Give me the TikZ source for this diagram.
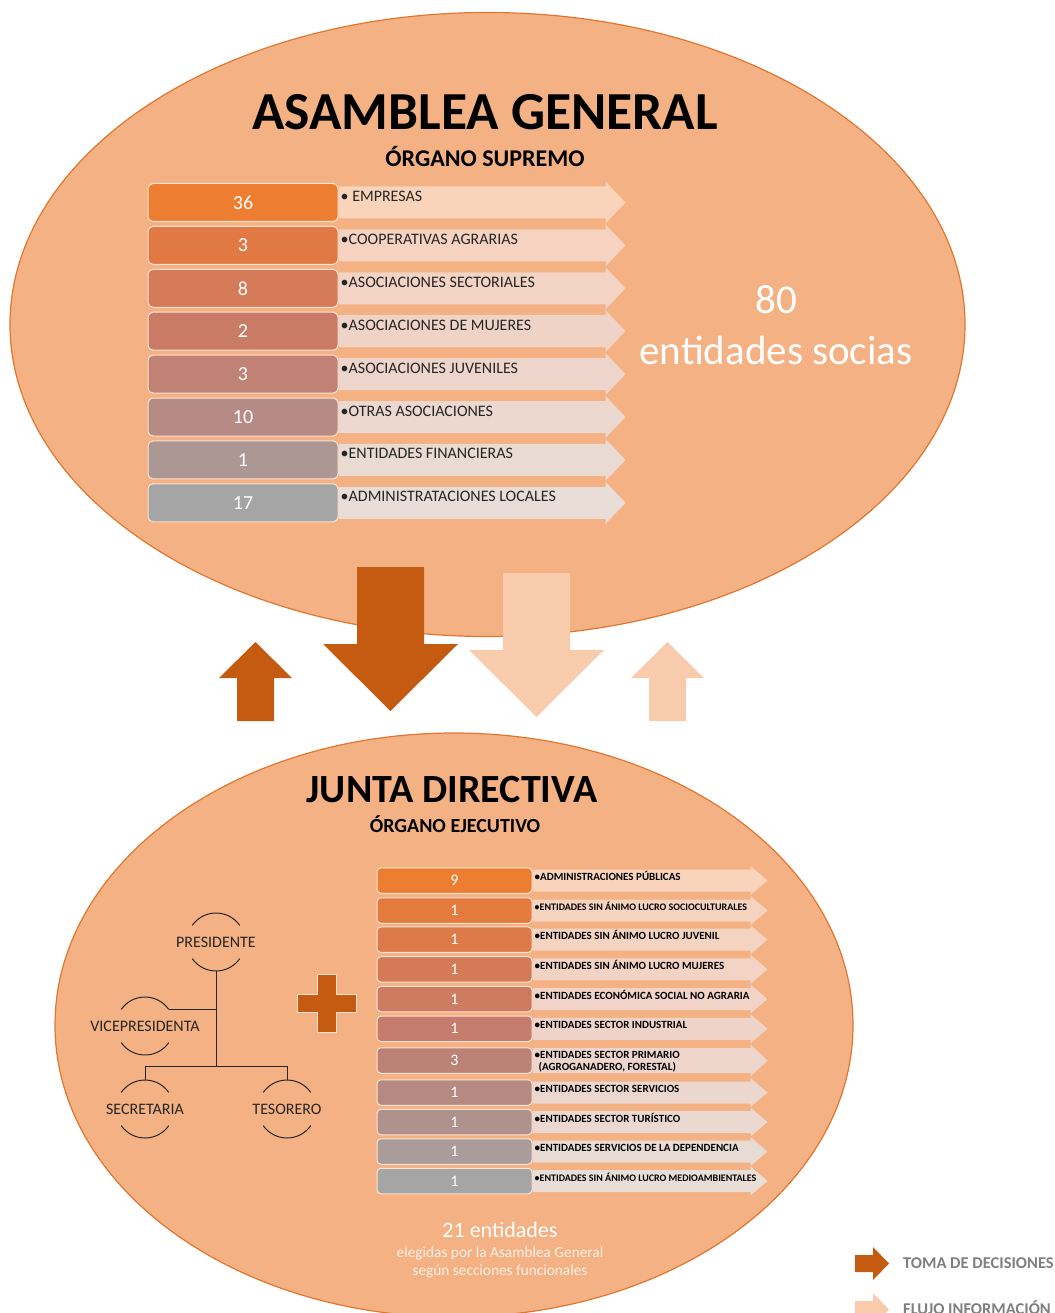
\documentclass[tikz,border=0pt]{standalone}
\usepackage{fontspec}
\setmainfont{Carlito}
\usetikzlibrary{positioning,shapes.geometric}

\definecolor{ellfill}{HTML}{F4B183}
\definecolor{elldraw}{HTML}{E2762F}
\definecolor{darkarr}{HTML}{C55A11}
\definecolor{lightarr}{HTML}{F8CBAD}
\definecolor{boxedge}{HTML}{FBE3D4}
\definecolor{txtdark}{HTML}{262626}
\definecolor{softwhite}{HTML}{FEF0E6}
\definecolor{legendgray}{HTML}{7F7F7F}
% asamblea rows
\definecolor{sA}{HTML}{ED7D31}
\definecolor{sB}{HTML}{E07944}
\definecolor{sC}{HTML}{D57B57}
\definecolor{sD}{HTML}{CA7B66}
\definecolor{sE}{HTML}{BF8275}
\definecolor{sF}{HTML}{B68B85}
\definecolor{sG}{HTML}{AD9795}
\definecolor{sH}{HTML}{A5A5A5}
% junta rows
\definecolor{jA}{HTML}{ED7D31}
\definecolor{jB}{HTML}{E47A3E}
\definecolor{jC}{HTML}{DD7A4A}
\definecolor{jD}{HTML}{D57A56}
\definecolor{jE}{HTML}{CD7B61}
\definecolor{jF}{HTML}{C57C6C}
\definecolor{jG}{HTML}{BD8276}
\definecolor{jH}{HTML}{B68A83}
\definecolor{jI}{HTML}{AF928E}
\definecolor{jJ}{HTML}{A99C9A}
\definecolor{jK}{HTML}{A5A5A5}

\begin{document}
\begin{tikzpicture}[x=1pt, y=-1pt,
    organo/.style={ellipse, fill=ellfill, draw=elldraw, line width=1.2pt, inner sep=0pt},
    topbox/.style={rounded corners=5pt, draw=boxedge, line width=1pt, minimum width=190pt, minimum height=38pt, inner sep=0pt, text=white, font=\fontsize{20}{24}\selectfont},
    botbox/.style={rounded corners=4pt, draw=boxedge, line width=1pt, minimum width=155pt, minimum height=25.5pt, inner sep=0pt, text=white, font=\fontsize{16}{19}\selectfont},
    band/.style={fill opacity=0.85},
    toptag/.style={anchor=base west, inner sep=0pt, text=txtdark, font=\fontsize{16}{19}\selectfont},
    bottag/.style={anchor=base west, inner sep=0pt, text=black, font=\bfseries\fontsize{11}{13}\selectfont},
    rolename/.style={inner sep=0pt, text=txtdark, font=\fontsize{16}{19}\selectfont},
    orgline/.style={draw=txtdark, line width=1pt},
    legendtxt/.style={anchor=base west, inner sep=0pt, text=legendgray, font=\bfseries\fontsize{16.5}{19}\selectfont}
]
    \useasboundingbox (0,0) rectangle (1054,1313);
    \clip (0,0) rectangle (1054,1313);

    % the two bodies
    \node[organo, minimum width=955pt, minimum height=624pt] (asamblea) at (487.5,324.5) {};
    \node[organo, minimum width=798pt, minimum height=584pt] (junta) at (454,1025) {};

    \node[anchor=base, text=black, font=\bfseries\fontsize{53.5}{62}\selectfont] (asmtitle) at (485,130) {ASAMBLEA GENERAL};
    \node[anchor=base, text=black, font=\bfseries\fontsize{24}{28}\selectfont] (asmsub) at (485,167) {ÓRGANO SUPREMO};

    \node[anchor=base, text=white, font=\fontsize{41}{48}\selectfont] (ochenta) at (776,313) {80};
    \node[anchor=base, text=white, font=\fontsize{41}{48}\selectfont] (socias) at (776,364) {entidades socias};

    % asamblea rows
    \node[topbox, fill=sA] (asm1) at (243,202.5) {36};
    \node[topbox, fill=sB] (asm2) at (243,245.4) {3};
    \node[topbox, fill=sC] (asm3) at (243,288.3) {8};
    \node[topbox, fill=sD] (asm4) at (243,331.2) {2};
    \node[topbox, fill=sE] (asm5) at (243,374.1) {3};
    \node[topbox, fill=sF] (asm6) at (243,417.0) {10};
    \node[topbox, fill=sG] (asm7) at (243,459.9) {1};
    \node[topbox, fill=sH] (asm8) at (243,502.8) {17};

    \fill[band, fill=sA!28!white] (asm1.east) ++(0,-16) -- ++(267,0) -- ++(0,-5) -- ++(20,21) -- ++(-20,21) -- ++(0,-5) -- ++(-267,0) -- cycle;
    \fill[band, fill=sB!28!white] (asm2.east) ++(0,-16) -- ++(267,0) -- ++(0,-5) -- ++(20,21) -- ++(-20,21) -- ++(0,-5) -- ++(-267,0) -- cycle;
    \fill[band, fill=sC!28!white] (asm3.east) ++(0,-16) -- ++(267,0) -- ++(0,-5) -- ++(20,21) -- ++(-20,21) -- ++(0,-5) -- ++(-267,0) -- cycle;
    \fill[band, fill=sD!28!white] (asm4.east) ++(0,-16) -- ++(267,0) -- ++(0,-5) -- ++(20,21) -- ++(-20,21) -- ++(0,-5) -- ++(-267,0) -- cycle;
    \fill[band, fill=sE!28!white] (asm5.east) ++(0,-16) -- ++(267,0) -- ++(0,-5) -- ++(20,21) -- ++(-20,21) -- ++(0,-5) -- ++(-267,0) -- cycle;
    \fill[band, fill=sF!28!white] (asm6.east) ++(0,-16) -- ++(267,0) -- ++(0,-5) -- ++(20,21) -- ++(-20,21) -- ++(0,-5) -- ++(-267,0) -- cycle;
    \fill[band, fill=sG!28!white] (asm7.east) ++(0,-16) -- ++(267,0) -- ++(0,-5) -- ++(20,21) -- ++(-20,21) -- ++(0,-5) -- ++(-267,0) -- cycle;
    \fill[band, fill=sH!28!white] (asm8.east) ++(0,-16) -- ++(267,0) -- ++(0,-5) -- ++(20,21) -- ++(-20,21) -- ++(0,-5) -- ++(-267,0) -- cycle;

    \node[toptag] (asmtag1) at ([xshift=2pt, yshift=1pt]asm1.east) {• EMPRESAS};
    \node[toptag] (asmtag2) at ([xshift=2pt, yshift=1pt]asm2.east) {•COOPERATIVAS AGRARIAS};
    \node[toptag] (asmtag3) at ([xshift=2pt, yshift=1pt]asm3.east) {•ASOCIACIONES SECTORIALES};
    \node[toptag] (asmtag4) at ([xshift=2pt, yshift=1pt]asm4.east) {•ASOCIACIONES DE MUJERES};
    \node[toptag] (asmtag5) at ([xshift=2pt, yshift=1pt]asm5.east) {•ASOCIACIONES JUVENILES};
    \node[toptag] (asmtag6) at ([xshift=2pt, yshift=1pt]asm6.east) {•OTRAS ASOCIACIONES};
    \node[toptag] (asmtag7) at ([xshift=2pt, yshift=1pt]asm7.east) {•ENTIDADES FINANCIERAS};
    \node[toptag] (asmtag8) at ([xshift=2pt, yshift=1pt]asm8.east) {•ADMINISTRATACIONES LOCALES};

    % arrows between the bodies
    \fill[darkarr] (237,721) -- (274,721) -- (274,678) -- (292,678) -- (255.5,642) -- (219,678) -- (237,678) -- cycle;
    \fill[darkarr] (357,567) -- (424,567) -- (424,644) -- (458,644) -- (390.5,711) -- (323,644) -- (357,644) -- cycle;
    \fill[lightarr] (503,573) -- (570,573) -- (570,650) -- (604,650) -- (536.5,717) -- (469,650) -- (503,650) -- cycle;
    \fill[lightarr] (649,721) -- (686,721) -- (686,678) -- (704,678) -- (667.5,642) -- (631,678) -- (649,678) -- cycle;

    \node[anchor=base, text=black, font=\bfseries\fontsize{40}{46}\selectfont] (jdtitle) at (452,802) {JUNTA DIRECTIVA};
    \node[anchor=base, text=black, font=\bfseries\fontsize{20}{24}\selectfont] (jdsub) at (455,832) {ÓRGANO EJECUTIVO};

    % junta rows
    \node[botbox, fill=jA] (jd1) at (454.5,880.5) {9};
    \node[botbox, fill=jB] (jd2) at (454.5,910.5) {1};
    \node[botbox, fill=jC] (jd3) at (454.5,939.7) {1};
    \node[botbox, fill=jD] (jd4) at (454.5,969.3) {1};
    \node[botbox, fill=jE] (jd5) at (454.5,999.0) {1};
    \node[botbox, fill=jF] (jd6) at (454.5,1028.8) {1};
    \node[botbox, fill=jG] (jd7) at (454.5,1060.5) {3};
    \node[botbox, fill=jH] (jd8) at (454.5,1092.5) {1};
    \node[botbox, fill=jI] (jd9) at (454.5,1122.0) {1};
    \node[botbox, fill=jJ] (jd10) at (454.5,1151.5) {1};
    \node[botbox, fill=jK] (jd11) at (454.5,1181.0) {1};

    \fill[band, fill=jA!28!white] (jd1.east) ++(0,-11) -- ++(218,0) -- ++(0,-3.5) -- ++(17,14.5) -- ++(-17,14.5) -- ++(0,-3.5) -- ++(-218,0) -- cycle;
    \fill[band, fill=jB!28!white] (jd2.east) ++(0,-11) -- ++(218,0) -- ++(0,-3.5) -- ++(17,14.5) -- ++(-17,14.5) -- ++(0,-3.5) -- ++(-218,0) -- cycle;
    \fill[band, fill=jC!28!white] (jd3.east) ++(0,-11) -- ++(218,0) -- ++(0,-3.5) -- ++(17,14.5) -- ++(-17,14.5) -- ++(0,-3.5) -- ++(-218,0) -- cycle;
    \fill[band, fill=jD!28!white] (jd4.east) ++(0,-11) -- ++(218,0) -- ++(0,-3.5) -- ++(17,14.5) -- ++(-17,14.5) -- ++(0,-3.5) -- ++(-218,0) -- cycle;
    \fill[band, fill=jE!28!white] (jd5.east) ++(0,-11) -- ++(218,0) -- ++(0,-3.5) -- ++(17,14.5) -- ++(-17,14.5) -- ++(0,-3.5) -- ++(-218,0) -- cycle;
    \fill[band, fill=jF!28!white] (jd6.east) ++(0,-11) -- ++(218,0) -- ++(0,-3.5) -- ++(17,14.5) -- ++(-17,14.5) -- ++(0,-3.5) -- ++(-218,0) -- cycle;
    \fill[band, fill=jG!28!white] (jd7.east) ++(0,-12.5) -- ++(218,0) -- ++(0,-3.5) -- ++(17,16) -- ++(-17,16) -- ++(0,-3.5) -- ++(-218,0) -- cycle;
    \fill[band, fill=jH!28!white] (jd8.east) ++(0,-11) -- ++(218,0) -- ++(0,-3.5) -- ++(17,14.5) -- ++(-17,14.5) -- ++(0,-3.5) -- ++(-218,0) -- cycle;
    \fill[band, fill=jI!28!white] (jd9.east) ++(0,-11) -- ++(218,0) -- ++(0,-3.5) -- ++(17,14.5) -- ++(-17,14.5) -- ++(0,-3.5) -- ++(-218,0) -- cycle;
    \fill[band, fill=jJ!28!white] (jd10.east) ++(0,-11) -- ++(218,0) -- ++(0,-3.5) -- ++(17,14.5) -- ++(-17,14.5) -- ++(0,-3.5) -- ++(-218,0) -- cycle;
    \fill[band, fill=jK!28!white] (jd11.east) ++(0,-11) -- ++(218,0) -- ++(0,-3.5) -- ++(17,14.5) -- ++(-17,14.5) -- ++(0,-3.5) -- ++(-218,0) -- cycle;

    \node[bottag] (jdtag1) at ([xshift=2pt]jd1.east) {•ADMINISTRACIONES PÚBLICAS};
    \node[bottag, font=\bfseries\fontsize{10}{12}\selectfont] (jdtag2) at ([xshift=2pt]jd2.east) {•ENTIDADES SIN ÁNIMO LUCRO SOCIOCULTURALES};
    \node[bottag] (jdtag3) at ([xshift=2pt]jd3.east) {•ENTIDADES SIN ÁNIMO LUCRO JUVENIL};
    \node[bottag] (jdtag4) at ([xshift=2pt]jd4.east) {•ENTIDADES SIN ÁNIMO LUCRO MUJERES};
    \node[bottag] (jdtag5) at ([xshift=2pt]jd5.east) {•ENTIDADES ECONÓMICA SOCIAL NO AGRARIA};
    \node[bottag] (jdtag6) at ([xshift=2pt]jd6.east) {•ENTIDADES SECTOR INDUSTRIAL};
    \node[bottag] (jdtag7) at ([xshift=2pt, yshift=2.5pt]jd7.east) {•ENTIDADES SECTOR PRIMARIO};
    \node[bottag] (jdtag7b) at ([xshift=4pt, yshift=-12pt]jdtag7.base west) {(AGROGANADERO, FORESTAL)};
    \node[bottag] (jdtag8) at ([xshift=2pt]jd8.east) {•ENTIDADES SECTOR SERVICIOS};
    \node[bottag] (jdtag9) at ([xshift=2pt]jd9.east) {•ENTIDADES SECTOR TURÍSTICO};
    \node[bottag] (jdtag10) at ([xshift=2pt]jd10.east) {•ENTIDADES SERVICIOS DE LA DEPENDENCIA};
    \node[bottag, font=\bfseries\fontsize{10}{12}\selectfont] (jdtag11) at ([xshift=2pt]jd11.east) {•ENTIDADES SIN ÁNIMO LUCRO MEDIOAMBIENTALES};

    % cargos
    \node[rolename] (pres) at (216,942) {PRESIDENTE};
    \node[rolename] (vice) at (145,1026) {VICEPRESIDENTA};
    \node[rolename] (secr) at (145,1109) {SECRETARIA};
    \node[rolename] (teso) at (287,1109) {TESORERO};

    \draw[orgline] ([shift={(35:29pt)}]pres.center) arc[start angle=35, end angle=145, radius=29pt];
    \draw[orgline] ([shift={(215:29pt)}]pres.center) arc[start angle=215, end angle=325, radius=29pt];
    \draw[orgline] ([shift={(35:29pt)}]vice.center) arc[start angle=35, end angle=145, radius=29pt];
    \draw[orgline] ([shift={(215:29pt)}]vice.center) arc[start angle=215, end angle=325, radius=29pt];
    \draw[orgline] ([shift={(35:29pt)}]secr.center) arc[start angle=35, end angle=145, radius=29pt];
    \draw[orgline] ([shift={(215:29pt)}]secr.center) arc[start angle=215, end angle=325, radius=29pt];
    \draw[orgline] ([shift={(35:29pt)}]teso.center) arc[start angle=35, end angle=145, radius=29pt];
    \draw[orgline] ([shift={(215:29pt)}]teso.center) arc[start angle=215, end angle=325, radius=29pt];

    \coordinate (fork) at (216,1066.7);
    \draw[orgline] ([yshift=-29pt]pres.center) -- (fork);
    \draw[orgline] ([yshift=29pt]secr.center) |- (fork) -| ([yshift=29pt]teso.center);
    \draw[orgline] ([shift={(35:29pt)}]vice.center) coordinate (viceend) -- (viceend -| fork);

    % plus
    \fill[darkarr, draw=boxedge, line width=0.8pt] (317,974) -- (336,974) -- (336,994) -- (356,994) -- (356,1012) -- (336,1012) -- (336,1032) -- (317,1032) -- (317,1012) -- (297,1012) -- (297,994) -- (317,994) -- cycle;

    \node[anchor=base, text=white, font=\fontsize{22}{26}\selectfont] (veintiuno) at (500,1237) {21 entidades};
    \node[anchor=base, text=softwhite, font=\fontsize{15.3}{18}\selectfont] (elegidas) at (500,1257) {elegidas por la Asamblea General};
    \node[anchor=base, text=softwhite, font=\fontsize{15.3}{18}\selectfont] (segun) at (500,1275) {según secciones funcionales};

    % legend
    \fill[darkarr] (855,1255) -- (873,1255) -- (873,1247) -- (889,1263.5) -- (873,1280) -- (873,1272) -- (855,1272) -- cycle;
    \node[legendtxt] (toma) at (903,1268) {TOMA DE DECISIONES};
    \fill[lightarr] (855,1301) -- (873,1301) -- (873,1293) -- (889,1309.5) -- (873,1326) -- (873,1318) -- (855,1318) -- cycle;
    \node[legendtxt] (flujo) at (903,1314) {FLUJO INFORMACIÓN};
\end{tikzpicture}
\end{document}
